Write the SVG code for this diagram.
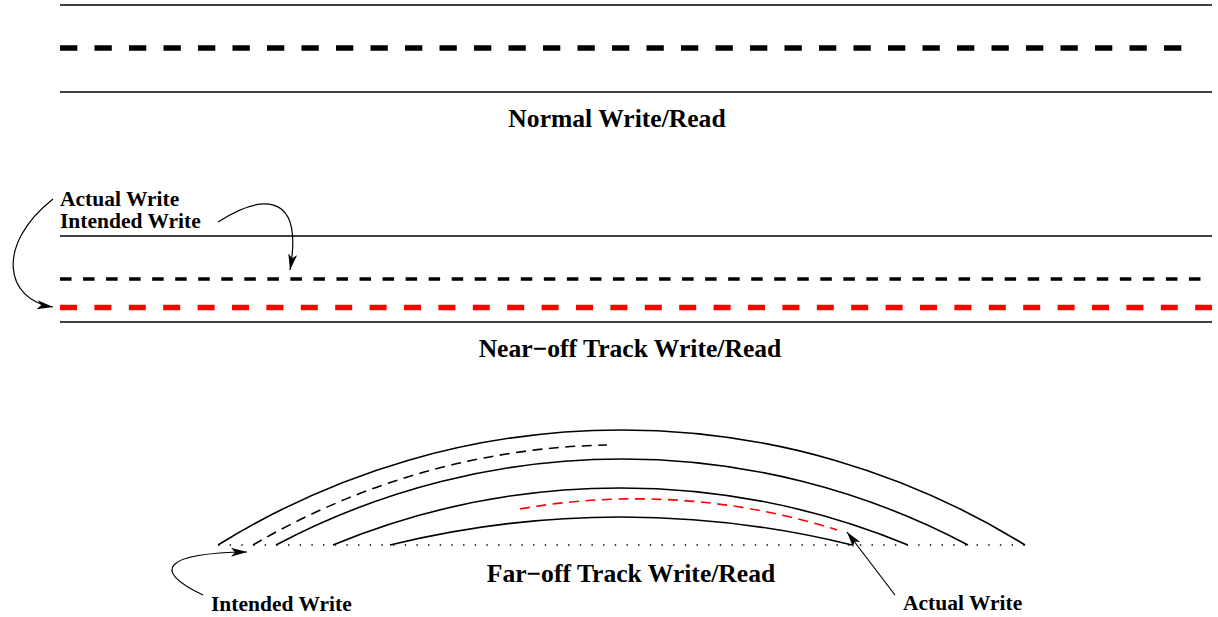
<svg xmlns="http://www.w3.org/2000/svg" width="1218" height="617" viewBox="0 0 1218 617">
<style>
.t{font-family:"Liberation Serif","Times New Roman",serif;font-weight:bold;fill:#000}
.big{font-size:25.6px}
.sm{font-size:21.5px}
.ln{stroke:#000;stroke-width:1.5;fill:none}
.arc{stroke:#000;stroke-width:1.6;fill:none}
.ar{stroke:#000;stroke-width:1.2;fill:none;marker-end:url(#ah)}
</style>
<defs>
<marker id="ah" markerUnits="userSpaceOnUse" markerWidth="18" markerHeight="10" refX="16" refY="4.5" orient="auto">
<path d="M0,0 L16,4.5 L0,9 L4,4.5 z" fill="#000"/>
</marker>
</defs>
<rect width="1218" height="617" fill="#fff"/>
<g id="normal">
<line class="ln" x1="60" y1="5" x2="1212" y2="5"/>
<line x1="60" y1="48" x2="1187" y2="48" stroke="#000" stroke-width="5.5" stroke-dasharray="17.3 17.2"/>
<line class="ln" x1="60" y1="92" x2="1212" y2="92"/>
<text class="t big" x="617" y="127" text-anchor="middle">Normal Write/Read</text>
</g>
<g id="nearoff">
<line class="ln" x1="60" y1="236" x2="1212" y2="236"/>
<line x1="60" y1="279" x2="1200.5" y2="279" stroke="#000" stroke-width="3.5" stroke-dasharray="11.5 11.54"/>
<line x1="60" y1="307.5" x2="1212" y2="307.5" stroke="#f00" stroke-width="5.5" stroke-dasharray="17 17.4"/>
<line class="ln" x1="60" y1="322" x2="1212" y2="322"/>
<text class="t sm" x="60" y="206">Actual Write</text>
<text class="t sm" x="60" y="228">Intended Write</text>
<text class="t big" x="630" y="357" text-anchor="middle">Near−off Track Write/Read</text>
</g>
<g id="faroff">
<line x1="218" y1="545" x2="1026" y2="545" stroke="#000" stroke-width="1.4" stroke-dasharray="1.4 10.27"/>
<path class="arc" d="M218,545 A765,765 0 0,1 1025,545"/>
<path class="arc" d="M276,545 A739,739 0 0,1 968,545"/>
<path class="arc" d="M333,545 A753,753 0 0,1 908,545"/>
<path class="arc" d="M390,545 A967,967 0 0,1 852,545"/>
<path d="M253,545 A728,728 0 0,1 607,445" stroke="#000" stroke-width="1.6" fill="none" stroke-dasharray="10 6.5"/>
<path d="M520,509 A665,665 0 0,1 837,530" stroke="#f00" stroke-width="1.6" fill="none" stroke-dasharray="10 6.5"/>
<text class="t big" x="631" y="582" text-anchor="middle">Far−off Track Write/Read</text>
<text class="t sm" x="211" y="611">Intended Write</text>
<text class="t sm" x="903" y="610">Actual Write</text>
</g>
<g id="connectors">
<path class="ar" d="M53,199 C-5,245 5,300 53,307"/>
<path class="ar" d="M218,222 C255,198 305,185 290,270"/>
<path class="ar" d="M203,595 C150,570 165,553 247,552"/>
<path class="ar" d="M895,595 L847,532"/>
</g>
</svg>
